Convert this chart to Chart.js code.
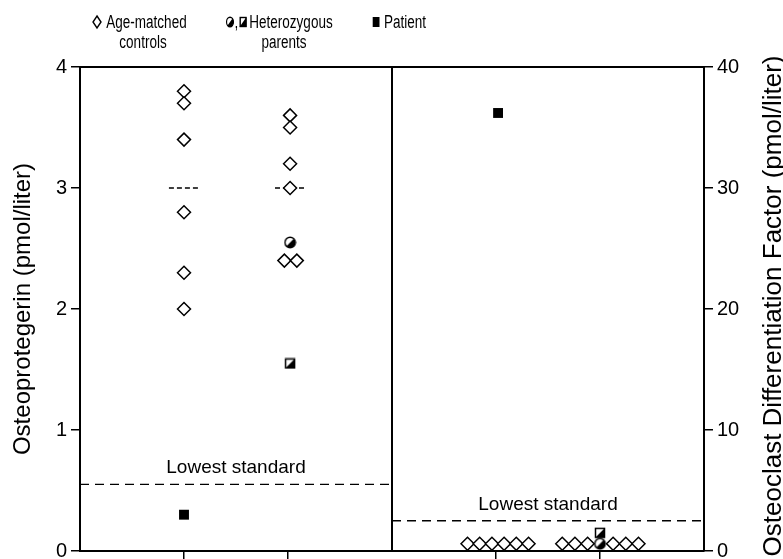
<!DOCTYPE html>
<html><head><meta charset="utf-8">
<script src="https://cdn.jsdelivr.net/npm/chart.js@4"></script>
<style>html,body{margin:0;padding:0;background:#fff;} canvas{display:block}</style>
</head><body>
<canvas id="c" width="783" height="559"></canvas>
<script>
// ---------------- data ----------------
// Osteoprotegerin (left panel, left axis); x = column position (1, 2) with small jitter
const opgControlX = [1, 1, 1, 1, 1, 1, 2.02, 2.02, 2.02, 2.02, 1.965, 2.085];
const opgControlY = [3.8, 3.7, 3.4, 2.8, 2.3, 2.0, 3.6, 3.5, 3.2, 3.0, 2.4, 2.4];
const opgParentX = [2.02, 2.02];          // [half circle, half square]
const opgParentY = [2.55, 1.55];
const opgPatientX = [1];
const opgPatientY = [0.3];
const opgMedianX = [1, 2.02];
const opgMedianY = [3.0, 3.0];
const opgLowest = 0.55;

// Osteoclast Differentiation Factor (right panel, right axis); columns 4, 5
const odfControlX = [3.726, 3.843, 3.961, 4.078, 4.195, 4.313, 4.637, 4.759, 4.881, 5.126, 5.248, 5.370];
const odfControlY = [0.6, 0.6, 0.6, 0.6, 0.6, 0.6, 0.6, 0.6, 0.6, 0.6, 0.6, 0.6];
const odfParentX = [5.0, 5.0];            // [half circle, half square]
const odfParentY = [0.6, 1.5];
const odfPatientX = [4.02];
const odfPatientY = [36.2];
const odfLowest = 2.5;

const columnTicks = [1, 2, 4, 5];
const opgTicks = [0, 1, 2, 3, 4];
const odfTicks = [0, 10, 20, 30, 40];
const panelSplit = 3;

const opgTitle = 'Osteoprotegerin (pmol/liter)';
const odfTitle = 'Osteoclast Differentiation Factor (pmol/liter)';
const lowestLabel = 'Lowest standard';
const legendLabels = [['Age-matched', 'controls'], ['Heterozygous', 'parents'], ['Patient']];

// ---------------- helpers ----------------
const pts = (xs, ys) => xs.map((x, i) => ({x, y: ys[i]}));
const FONT = "'Liberation Sans', Arial, Helvetica, sans-serif";

function makeHalfCircle() {
  const c = document.createElement('canvas'); c.width = 13; c.height = 13;
  const g = c.getContext('2d'); const cx = 6.5, cy = 6.5, r = 5.2;
  g.fillStyle = '#fff'; g.beginPath(); g.arc(cx, cy, r, 0, 2 * Math.PI); g.fill();
  g.fillStyle = '#000'; g.beginPath(); g.arc(cx, cy, r, -Math.PI / 4, 3 * Math.PI / 4); g.closePath(); g.fill();
  g.beginPath(); g.arc(cx, cy, r, 0, 2 * Math.PI); g.lineWidth = 1.5; g.strokeStyle = '#000'; g.stroke();
  return c;
}
function makeHalfSquare() {
  const c = document.createElement('canvas'); c.width = 12; c.height = 12;
  const g = c.getContext('2d');
  g.fillStyle = '#fff'; g.fillRect(1, 1, 10, 10);
  g.fillStyle = '#000'; g.beginPath(); g.moveTo(11, 1); g.lineTo(11, 11); g.lineTo(1, 11); g.closePath(); g.fill();
  g.lineWidth = 1.5; g.strokeStyle = '#000'; g.strokeRect(1.5, 1.5, 9, 9);
  return c;
}
const halfCircle = makeHalfCircle();
const halfSquare = makeHalfSquare();

const diamond = {pointStyle: 'rectRot', pointRadius: 6.5, pointBackgroundColor: '#fff', pointBorderColor: '#000', pointBorderWidth: 1.5, showLine: false, order: 0};
const patient = {pointStyle: 'rect', pointRadius: 7, pointBackgroundColor: '#000', pointBorderColor: '#000', pointBorderWidth: 0, showLine: false, order: 0};
const dashSeg = (cx, y) => [{x: cx - 0.145, y}, {x: cx + 0.145, y}];

const datasets = [
  Object.assign({label: 'OPG controls', data: pts(opgControlX, opgControlY), yAxisID: 'y'}, diamond),
  {label: 'OPG parent (circle)', data: pts(opgParentX.slice(0, 1), opgParentY.slice(0, 1)), yAxisID: 'y', pointStyle: halfCircle, showLine: false, order: 0},
  {label: 'OPG parent (square)', data: pts(opgParentX.slice(1), opgParentY.slice(1)), yAxisID: 'y', pointStyle: halfSquare, showLine: false, order: 0},
  Object.assign({label: 'OPG patient', data: pts(opgPatientX, opgPatientY), yAxisID: 'y'}, patient),
  Object.assign({label: 'ODF controls', data: pts(odfControlX, odfControlY), yAxisID: 'y2'}, diamond),
  {label: 'ODF parent (circle)', data: pts(odfParentX.slice(0, 1), odfParentY.slice(0, 1)), yAxisID: 'y2', pointStyle: halfCircle, showLine: false, order: 0},
  {label: 'ODF parent (square)', data: pts(odfParentX.slice(1), odfParentY.slice(1)), yAxisID: 'y2', pointStyle: halfSquare, showLine: false, order: 0},
  Object.assign({label: 'ODF patient', data: pts(odfPatientX, odfPatientY), yAxisID: 'y2'}, patient),
];
opgMedianX.forEach((cx, i) => datasets.push({
  type: 'line', label: 'median ' + i, data: dashSeg(cx, opgMedianY[i]), yAxisID: 'y',
  borderColor: '#000', borderWidth: 1.3, borderDash: [5, 3], pointRadius: 0, showLine: true, order: 5
}));
datasets.push({type: 'line', label: 'OPG lowest', data: [{x: 0, y: opgLowest}, {x: panelSplit, y: opgLowest}], yAxisID: 'y',
  borderColor: '#000', borderWidth: 1.3, borderDash: [9, 6], pointRadius: 0, showLine: true, order: 5});
datasets.push({type: 'line', label: 'ODF lowest', data: [{x: panelSplit, y: odfLowest}, {x: 6, y: odfLowest}], yAxisID: 'y2',
  borderColor: '#000', borderWidth: 1.3, borderDash: [9, 6], pointRadius: 0, showLine: true, order: 5});

// ---------------- plugins ----------------
function narrowText(ctx, txt, x, y, align) {
  ctx.save(); ctx.translate(x, y); ctx.scale(0.75, 1); ctx.textAlign = align; ctx.fillText(txt, 0, 0); ctx.restore();
}
const decor = {
  id: 'decor',
  afterDatasetsDraw(chart) {
    const {ctx, chartArea: a, scales} = chart;
    const x = scales.x, y = scales.y, y2 = scales.y2;
    ctx.save();
    ctx.strokeStyle = '#000'; ctx.lineWidth = 2;
    ctx.beginPath();
    ctx.moveTo(a.left - 1, a.top); ctx.lineTo(a.right + 1, a.top);
    const mx = x.getPixelForValue(panelSplit);
    ctx.moveTo(mx, a.top); ctx.lineTo(mx, a.bottom);
    ctx.stroke();
    // lowest standard labels
    ctx.fillStyle = '#000'; ctx.font = '19px ' + FONT; ctx.textAlign = 'center'; ctx.textBaseline = 'alphabetic';
    ctx.fillText(lowestLabel, x.getPixelForValue(panelSplit / 2), y.getPixelForValue(opgLowest) - 11);
    ctx.fillText(lowestLabel, x.getPixelForValue(panelSplit * 1.5), y2.getPixelForValue(odfLowest) - 11);
    // axis titles
    const cy = (a.top + a.bottom) / 2;
    ctx.textBaseline = 'alphabetic';
    ctx.font = '24px ' + FONT;
    ctx.save(); ctx.translate(30, cy); ctx.rotate(-Math.PI / 2); ctx.fillText(opgTitle, 0, 0); ctx.restore();
    ctx.font = '26px ' + FONT;
    ctx.save(); ctx.translate(781, cy - 3); ctx.rotate(-Math.PI / 2); ctx.fillText(odfTitle, 0, 0); ctx.restore();
    // legend symbols
    ctx.lineWidth = 1.4;
    ctx.beginPath(); ctx.moveTo(97, 16); ctx.lineTo(101, 22); ctx.lineTo(97, 28); ctx.lineTo(93, 22); ctx.closePath(); ctx.stroke();
    ctx.save(); ctx.translate(230, 22); ctx.scale(0.72, 1);
    ctx.fillStyle = '#000'; ctx.beginPath(); ctx.arc(0, 0, 4.8, -Math.PI / 4, 3 * Math.PI / 4); ctx.closePath(); ctx.fill();
    ctx.beginPath(); ctx.arc(0, 0, 4.8, 0, 2 * Math.PI); ctx.lineWidth = 1.6; ctx.stroke();
    ctx.restore();
    ctx.fillStyle = '#000'; ctx.beginPath(); ctx.moveTo(246.5, 17); ctx.lineTo(246.5, 27); ctx.lineTo(239.5, 27); ctx.closePath(); ctx.fill();
    ctx.lineWidth = 1.4; ctx.strokeRect(240.2, 17.5, 5.8, 9);
    ctx.fillRect(372.7, 17, 6.8, 10);
    // legend text (condensed)
    ctx.font = '18px ' + FONT; ctx.textBaseline = 'alphabetic';
    narrowText(ctx, ',', 236.5, 27.5, 'center');
    narrowText(ctx, legendLabels[0][0], 146.5, 27.5, 'center');
    narrowText(ctx, legendLabels[0][1], 143, 48, 'center');
    narrowText(ctx, legendLabels[1][0], 291, 27.5, 'center');
    narrowText(ctx, legendLabels[1][1], 284, 48, 'center');
    narrowText(ctx, legendLabels[2][0], 384, 27.5, 'left');
    ctx.restore();
  }
};

const axisGrid = {drawOnChartArea: false, drawTicks: true, color: '#000', lineWidth: 1.5};
Chart.defaults.font.family = FONT;
Chart.defaults.color = '#000';
const fixV = w => s => { s.width = w; s.paddingTop = 0; s.paddingBottom = 0; };

new Chart(document.getElementById('c'), {
  type: 'scatter',
  data: {datasets},
  options: {
    responsive: false, animation: false, devicePixelRatio: 1,
    layout: {padding: {top: 67, left: 0, right: 0, bottom: 0}},
    plugins: {legend: {display: false}, tooltip: {enabled: false}},
    scales: {
      x: {
        type: 'linear', position: 'bottom', min: 0, max: 6,
        afterBuildTicks: s => { s.ticks = columnTicks.map(v => ({value: v})); },
        afterFit: s => { s.height = 8; s.paddingLeft = 0; s.paddingRight = 0; },
        ticks: {display: false},
        grid: Object.assign({tickLength: 8}, axisGrid),
        border: {display: true, color: '#000', width: 2}
      },
      y: {
        type: 'linear', position: 'left', min: 0, max: 4,
        afterBuildTicks: s => { s.ticks = opgTicks.map(v => ({value: v})); },
        afterFit: fixV(80),
        ticks: {font: {size: 20}, color: '#000', padding: 4},
        grid: Object.assign({tickLength: 9}, axisGrid),
        border: {display: true, color: '#000', width: 2}
      },
      y2: {
        type: 'linear', position: 'right', min: 0, max: 40,
        afterBuildTicks: s => { s.ticks = odfTicks.map(v => ({value: v})); },
        afterFit: fixV(79),
        ticks: {font: {size: 20}, color: '#000', padding: 4},
        grid: Object.assign({tickLength: 9}, axisGrid),
        border: {display: true, color: '#000', width: 2}
      }
    }
  },
  plugins: [decor]
});
</script>
</body></html>
